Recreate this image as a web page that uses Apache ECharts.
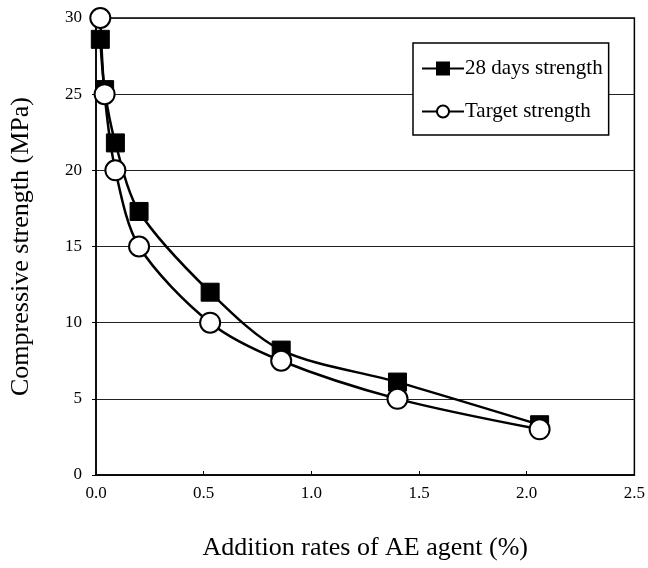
<!DOCTYPE html>
<html><head><meta charset="utf-8">
<script src="https://cdn.jsdelivr.net/npm/echarts@6/dist/echarts.min.js"></script>
<style>html,body{margin:0;padding:0;background:#fff}#c{width:648px;height:568px}</style>
</head><body><div id="c"></div>
<script>
const rates = [0.02, 0.04, 0.09, 0.20, 0.53, 0.86, 1.40, 2.06];
const strength28 = [28.6, 25.3, 21.8, 17.3, 12.0, 8.2, 6.1, 3.3];
const targetStrength = [30, 25, 20, 15, 10, 7.5, 5, 3];
const yTicks = [0, 5, 10, 15, 20, 25, 30];
const seriesNames = ['28 days strength', 'Target strength'];

const font = '"Liberation Serif", "DejaVu Serif", serif';
const chart = echarts.init(document.getElementById('c'));
chart.setOption({
  animation: false,
  backgroundColor: '#fff',
  grid: {left: 96, right: 10, top: 18, bottom: 93, show: true, borderColor: '#000', borderWidth: 1.5},
  legend: {
    data: seriesNames, orient: 'vertical', left: 413, top: 43,
    padding: [15, 6, 13, 8], itemGap: 22, itemWidth: 42, itemHeight: 15,
    borderColor: '#000', borderWidth: 1.5, backgroundColor: '#fff',
    textStyle: {fontFamily: font, fontSize: 21, color: '#000', padding: [0, 0, 0, -4]}
  },
  xAxis: {
    type: 'value', min: 0, max: 2.5, interval: 0.5,
    name: 'Addition rates of AE agent (%)', nameLocation: 'middle', nameGap: 60,
    nameTextStyle: {fontFamily: font, fontSize: 26, color: '#000'},
    axisLine: {lineStyle: {color: '#000', width: 1.5}},
    axisTick: {inside: true, length: 4, lineStyle: {color: '#000'}},
    axisLabel: {fontFamily: font, fontSize: 17, color: '#000', margin: 10, formatter: v => v.toFixed(1)},
    splitLine: {show: false}
  },
  yAxis: {
    type: 'value', min: 0, max: 30, interval: 5,
    name: 'Compressive strength (MPa)', nameLocation: 'middle', nameGap: 62,
    nameTextStyle: {fontFamily: font, fontSize: 26, color: '#000'},
    axisLine: {lineStyle: {color: '#000', width: 1.5}},
    axisTick: {length: 4, lineStyle: {color: '#000'}},
    axisLabel: {fontFamily: font, fontSize: 17, color: '#000', margin: 14,
      formatter: v => yTicks.includes(v) ? String(v) : ''},
    splitLine: {lineStyle: {color: '#222', width: 1.2}}
  },
  series: [
    {
      name: seriesNames[0], type: 'line', smooth: 0.3,
      data: rates.map((r, i) => [r, strength28[i]]),
      symbol: 'rect', symbolSize: 18,
      lineStyle: {color: '#000', width: 2.5},
      itemStyle: {color: '#000', borderColor: '#000', borderWidth: 1},
      z: 2
    },
    {
      name: seriesNames[1], type: 'line', smooth: 0.3,
      data: rates.map((r, i) => [r, targetStrength[i]]),
      symbol: 'circle', symbolSize: 20,
      lineStyle: {color: '#000', width: 2.5},
      itemStyle: {color: '#fff', borderColor: '#000', borderWidth: 2},
      z: 3
    }
  ]
});
</script></body></html>
